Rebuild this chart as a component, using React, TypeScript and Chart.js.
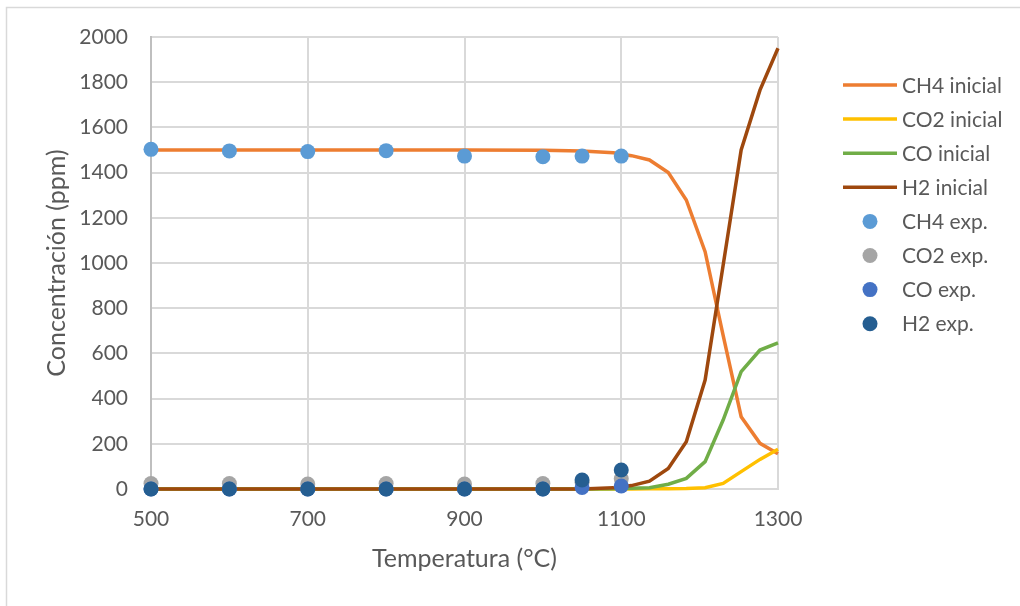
import React, { useEffect, useRef } from "react";
import { Chart, registerables } from "chart.js";

Chart.register(...registerables);

// ---- data ----
const simTemps = [500, 600, 700, 800, 900, 1000, 1050, 1090, 1113, 1136, 1160, 1183, 1207, 1230, 1253, 1277, 1300];
const ch4Inicial = [1500, 1500, 1500, 1500, 1500, 1499, 1496, 1488, 1475, 1456, 1400, 1279, 1050, 680, 320, 202, 156];
const co2Inicial = [0, 0, 0, 0, 0, 0, 0, 0, 0, 1, 1, 2, 6, 25, 77, 131, 176];
const coInicial = [0, 0, 0, 0, 0, 0, 0, 1, 3, 6, 21, 47, 121, 305, 519, 615, 647];
const h2Inicial = [0, 0, 0, 0, 0, 0, 0, 5, 15, 35, 91, 209, 482, 990, 1500, 1765, 1950];

const expTemps = [500, 600, 700, 800, 900, 1000, 1050, 1100];
const ch4Exp = [1503, 1496, 1493, 1497, 1473, 1470, 1473, 1473];
const co2Exp = [24, 24, 22, 24, 22, 24, 30, 45];
const coExp = [0, 0, 0, 0, 0, 0, 7, 13];
const h2Exp = [0, 0, 0, 0, 0, 0, 40, 84];

const xTicks = [500, 700, 900, 1100, 1300];
const yTicks = [0, 200, 400, 600, 800, 1000, 1200, 1400, 1600, 1800, 2000];

const lineNames = ["CH4 inicial", "CO2 inicial", "CO inicial", "H2 inicial"];
const pointNames = ["CH4 exp.", "CO2 exp.", "CO exp.", "H2 exp."];
const lineColors = ["#ED7D31", "#FFC000", "#70AD47", "#9E480E"];
const pointColors = ["#5B9BD5", "#A5A5A5", "#4472C4", "#255E91"];

const xTitle = "Temperatura (°C)";
const yTitle = "Concentración (ppm)";

const FONT = "Lato, 'Open Sans', sans-serif";
const TEXT = "#595959";

const pts = (xs: number[], ys: number[]) => xs.map((x, i) => ({ x, y: ys[i] }));

const framePlugin = {
  id: "frame",
  beforeDraw(chart: any) {
    const ctx = chart.ctx;
    ctx.save();
    ctx.fillStyle = "#ffffff";
    ctx.fillRect(0, 0, chart.width, chart.height);
    ctx.strokeStyle = "#d9d9d9";
    ctx.lineWidth = 1.5;
    ctx.strokeRect(6.5, 7.5, 3000, 3000);
    ctx.restore();
  },
};

const legendPlugin = {
  id: "sideLegend",
  afterDraw(chart: any) {
    const ctx = chart.ctx;
    const ds = chart.data.datasets;
    ctx.save();
    ctx.font = `21px ${FONT}`;
    ctx.textBaseline = "middle";
    ctx.textAlign = "left";
    ds.forEach((d: any, i: number) => {
      const y = 85 + i * 34.1;
      if (d.showLine) {
        ctx.strokeStyle = d.borderColor;
        ctx.lineWidth = 3.5;
        ctx.beginPath();
        ctx.moveTo(843, y);
        ctx.lineTo(897, y);
        ctx.stroke();
      } else {
        ctx.fillStyle = d.backgroundColor;
        ctx.beginPath();
        ctx.arc(870, y, 7.5, 0, Math.PI * 2);
        ctx.fill();
      }
      ctx.fillStyle = TEXT;
      ctx.fillText(d.label, 902, y + 1);
    });
    ctx.restore();
  },
};

export default function App() {
  const ref = useRef<HTMLCanvasElement>(null);
  useEffect(() => {
    const lineData = [ch4Inicial, co2Inicial, coInicial, h2Inicial];
    const expData = [ch4Exp, co2Exp, coExp, h2Exp];
    const datasets: any[] = [];
    lineData.forEach((vals, i) => {
      datasets.push({
        label: lineNames[i],
        data: pts(simTemps, vals),
        showLine: true,
        borderColor: lineColors[i],
        backgroundColor: lineColors[i],
        borderWidth: 3.5,
        pointRadius: 0,
        pointHoverRadius: 0,
        tension: 0,
        clip: false,
        order: 20 - datasets.length,
      });
    });
    expData.forEach((vals, i) => {
      datasets.push({
        label: pointNames[i],
        data: pts(expTemps, vals),
        showLine: false,
        borderColor: pointColors[i],
        backgroundColor: pointColors[i],
        borderWidth: 0,
        pointRadius: 7.5,
        pointHoverRadius: 7.5,
        clip: false,
        order: 20 - datasets.length,
      });
    });
    const chart = new Chart(ref.current as HTMLCanvasElement, {
      type: "scatter",
      data: { datasets },
      options: {
        animation: false,
        responsive: false,
        devicePixelRatio: 1,
        layout: { padding: { top: 37, right: 242, left: 0, bottom: 0 } },
        plugins: {
          legend: { display: false },
          tooltip: { enabled: false },
        },
        scales: {
          x: {
            type: "linear",
            min: 500,
            max: 1300,
            afterBuildTicks: (s: any) => {
              s.ticks = xTicks.map((v) => ({ value: v }));
            },
            afterFit: (s: any) => {
              s.height = 117;
            },
            ticks: {
              color: TEXT,
              font: { family: FONT, size: 21 },
              padding: 18,
              callback: (v: any) => String(v),
            },
            grid: { color: "#d9d9d9", lineWidth: 2, drawTicks: false },
            border: { color: "#d9d9d9", width: 2 },
            title: {
              display: true,
              text: xTitle,
              color: TEXT,
              font: { family: FONT, size: 25 },
              padding: { top: 0, bottom: 32 },
            },
          },
          y: {
            type: "linear",
            min: 0,
            max: 2000,
            afterBuildTicks: (s: any) => {
              s.ticks = yTicks.map((v) => ({ value: v }));
            },
            afterFit: (s: any) => {
              s.width = 151;
            },
            ticks: {
              color: TEXT,
              font: { family: FONT, size: 21 },
              padding: 23,
              callback: (v: any) => String(v),
            },
            grid: { color: "#d9d9d9", lineWidth: 2, drawTicks: false },
            border: { color: "#bfbfbf", width: 2 },
            title: {
              display: true,
              text: yTitle,
              color: TEXT,
              font: { family: FONT, size: 25 },
              padding: { top: 42, bottom: 0 },
            },
          },
        },
      } as any,
      plugins: [framePlugin, legendPlugin],
    });
    return () => chart.destroy();
  }, []);
  return (
    <div style={{ position: "fixed", left: 0, top: 0, width: 1020, height: 606, background: "#fff" }}>
      <canvas ref={ref} width={1020} height={606} style={{ width: 1020, height: 606, display: "block" }} />
    </div>
  );
}
